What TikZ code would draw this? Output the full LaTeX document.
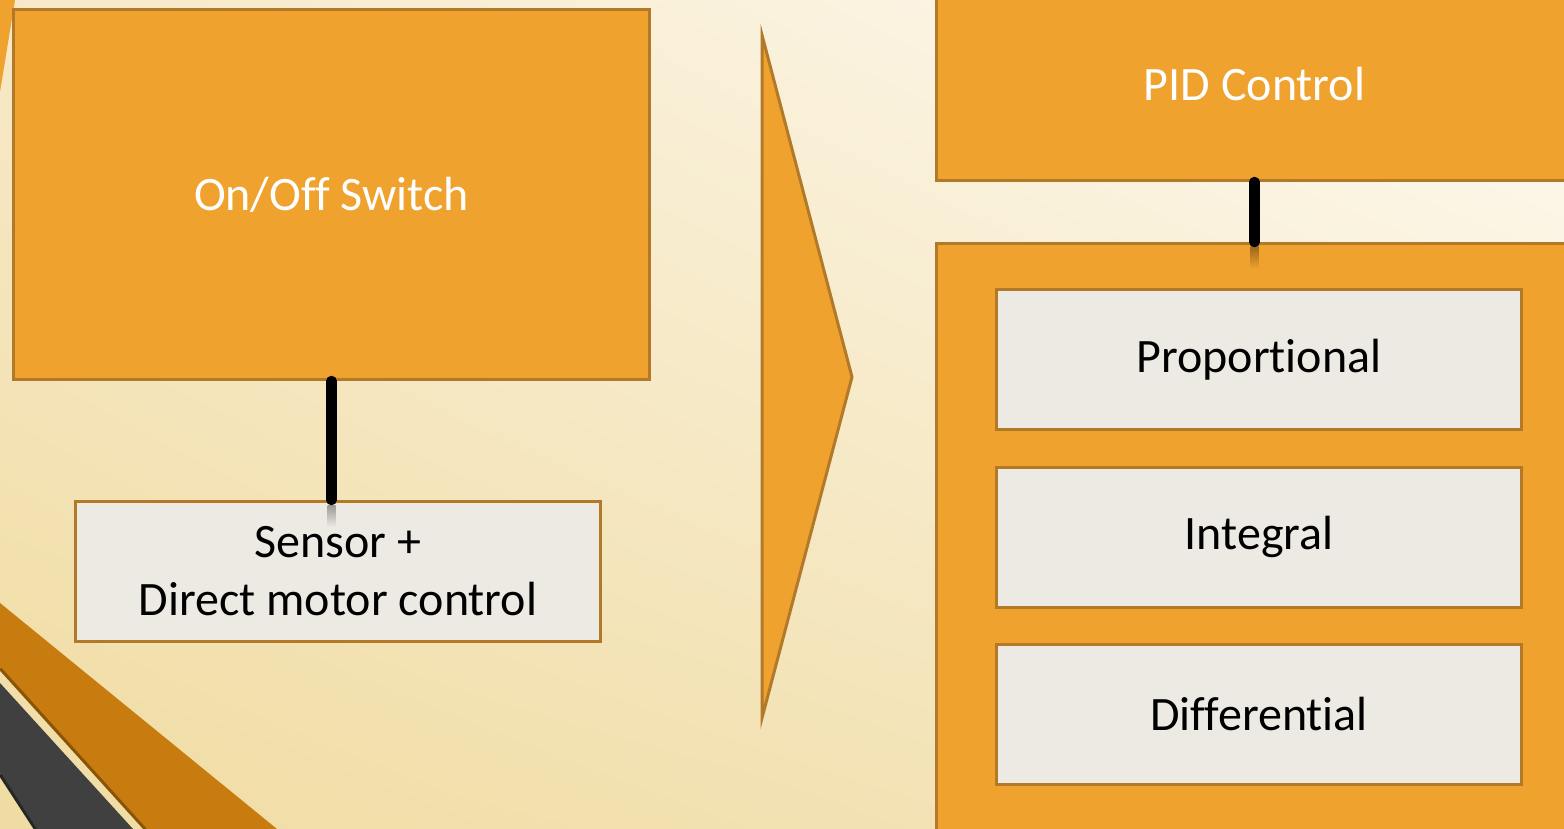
\documentclass[tikz,border=0pt]{standalone}
\usepackage{fontspec}
\setmainfont[Ligatures={NoCommon,NoContextual},Contextuals=NoAlternate]{Carlito}
\usepackage{xcolor}
\usepackage{tikz}
\usetikzlibrary{positioning,calc,shadings}
\definecolor{pdorange}{HTML}{F0A22F}
\definecolor{pdedge}{HTML}{B27A28}
\definecolor{pdgrey}{HTML}{EDEAE3}
\definecolor{pdstripe}{HTML}{C87B0F}
\definecolor{pdbrown}{HTML}{8A5306}
\definecolor{pddark}{HTML}{404040}
\definecolor{pdblack}{HTML}{262626}
\definecolor{bgul}{HTML}{F7E9C8}
\definecolor{bgur}{HTML}{FEFBF3}
\definecolor{bgll}{HTML}{F0DCA2}
\definecolor{bglr}{HTML}{F4E6C0}

\begin{document}
\begin{tikzpicture}[x=1pt,y=-1pt,
      node distance=34.5pt,
      every node/.style={font=\fontsize{48}{58}\selectfont},
      obox/.style={draw=pdedge,line width=3pt,fill=pdorange,text=white,inner sep=0pt},
      gbox/.style={draw=pdedge,line width=3pt,fill=pdgrey,text=black,align=center,
                   inner sep=0pt,minimum width=525pt,minimum height=140pt},
      link/.style={line width=10.5pt,line cap=round,black}]
    \useasboundingbox (0,0) rectangle (1564,829);
    \clip (0,0) rectangle (1564,829);
    \shade[upper left=bgul,upper right=bgur,lower left=bgll,lower right=bglr]
      (0,0) rectangle (1564,829);
    % corner stripes
    \fill[pdorange] (0,0) -- (15,0) -- (0,92) -- cycle;
    \fill[pdstripe] (0,603) -- (277,829) -- (147,829) -- (0,667) -- cycle;
    \draw[pdbrown,line width=3pt] (0,668.5) -- (146,830);
    \fill[pddark] (0,683) -- (133,829) -- (37,829) -- (0,773) -- cycle;
    \draw[pdblack,line width=3pt] (0,774.5) -- (36,830);
    % left side
    \node[obox,anchor=north west,minimum width=636pt,minimum height=370pt] (sw) at (12,8) {On/Off Switch};
    \node[gbox,anchor=north west] (sens) at (74,500) {Sensor +\\Direct motor control};
    \shade[top color=black!35!pdgrey,bottom color=pdgrey] ($(sw.south |- sens.north)+(-4,5)$) rectangle +(8,22);
    \draw[link] (sw.south) -- (sw.south |- sens.north);
    % chevron
    \draw[fill=pdorange,draw=pdedge,line width=3pt,line join=miter] (762,35) -- (852,377) -- (762,718) -- cycle;
    % right side
    \node[obox,anchor=south west,minimum width=636pt,minimum height=192pt] (pid) at (935,182) {PID Control};
    \node[obox,anchor=north west,minimum width=636pt,minimum height=650pt] (grp) at (935,242) {};
    \node[gbox,anchor=north west] (p) at (995,288) {Proportional};
    \node[gbox,below=of p] (i) {Integral};
    \node[gbox,below=of i] (d) {Differential};
    \shade[top color=black!35!pdorange,bottom color=pdorange] ($(grp.north)+(-4,5)$) rectangle +(8,22);
    \draw[link] (pid) -- (grp);
  \end{tikzpicture}
\end{document}
